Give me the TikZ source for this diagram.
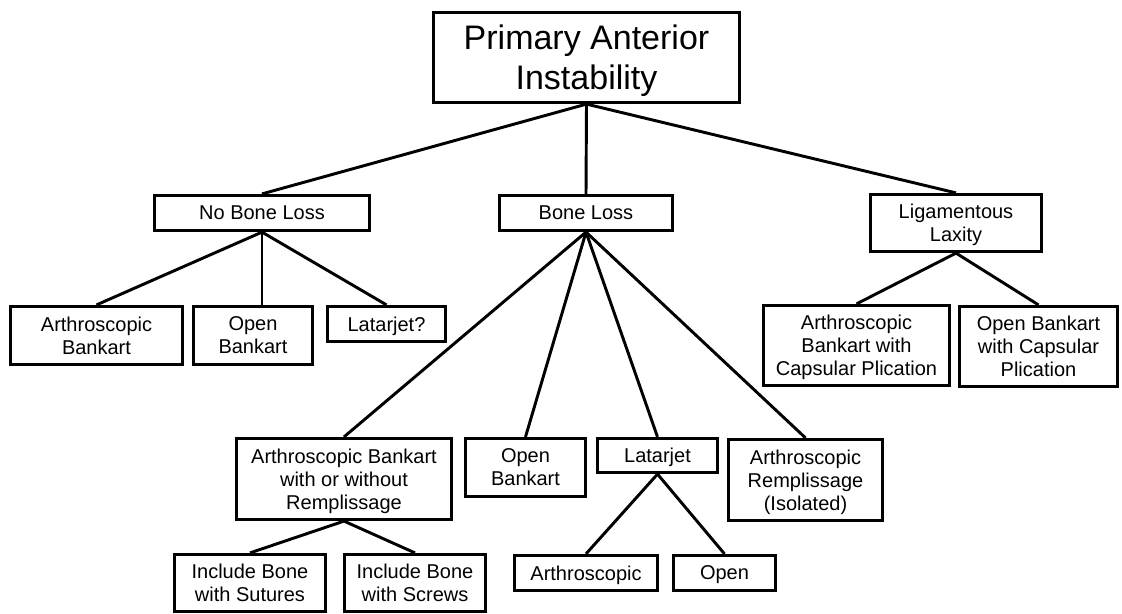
\documentclass[tikz,border=0pt]{standalone}
\usepackage{fontspec}
\setmainfont{Liberation Sans}
\begin{document}
\begin{tikzpicture}[x=0.75pt,y=-0.75pt,
  box/.style={draw,line width=2.4pt,align=center,inner sep=0pt,text depth=0pt,
    font=\fontsize{15}{17.25}\selectfont},
  sz/.style 2 args={minimum width=#1*0.75pt,minimum height=#2*0.75pt},
  link/.style={line width=2.2pt}]
  \useasboundingbox (0,0) rectangle (1122,614);
  % root
  \node[box,sz={306}{90},font=\fontsize{25.5}{30}\selectfont] (root) at (586.5,57.5) {Primary Anterior\\Instability};
  % first level
  \node[box,sz={215}{35}] (nbl) at (262,213) {No Bone Loss};
  \node[box,sz={173}{35}] (bl) at (586,213) {Bone Loss};
  \node[box,sz={171}{57}] (lig) at (956,223) {Ligamentous\\Laxity};
  % no bone loss
  \node[box,sz={172}{58}] (ab) at (96.5,335.5) {Arthroscopic\\Bankart};
  \node[box,sz={119}{58}] (ob) at (253,335.5) {Open\\Bankart};
  \node[box,sz={118}{35}] (latq) at (386.5,324) {Latarjet?};
  % ligamentous laxity
  \node[box,sz={186}{80}] (abcp) at (856.5,345.5) {Arthroscopic\\Bankart with\\Capsular Plication};
  \node[box,sz={158}{80}] (obcp) at (1038.5,346.5) {Open Bankart\\with Capsular\\Plication};
  % bone loss
  \node[box,sz={215}{81}] (abwr) at (344,479) {Arthroscopic Bankart\\with or without\\Remplissage};
  \node[box,sz={120}{58}] (obl) at (525.5,467.5) {Open\\Bankart};
  \node[box,sz={120}{34}] (lat) at (657.5,455.5) {Latarjet};
  \node[box,sz={154}{81}] (ari) at (805.5,480) {Arthroscopic\\Remplissage\\(Isolated)};
  % bottom row
  \node[box,sz={151}{57}] (ibsu) at (250,583) {Include Bone\\with Sutures};
  \node[box,sz={141}{57}] (ibsc) at (415,583) {Include Bone\\with Screws};
  \node[box,sz={143}{35}] (arth) at (586,573) {Arthroscopic};
  \node[box,sz={102}{35}] (open) at (724.5,573) {Open};
  % connectors
  \draw[link] (root.south) -- (nbl.north);
  \draw[link] (root.south) -- (bl.north);
  \draw[link] (root.south) -- (lig.north);
  \draw[link] (nbl.south) -- (ab.north);
  \draw[link] (nbl.south) -- (nbl.south |- ob.north);
  \draw[link] (nbl.south) -- (latq.north);
  \draw[link] (lig.south) -- (abcp.north);
  \draw[link] (lig.south) -- (obcp.north);
  \draw[link] (bl.south) -- (abwr.north);
  \draw[link] (bl.south) -- (obl.north);
  \draw[link] (bl.south) -- (lat.north);
  \draw[link] (bl.south) -- (ari.north);
  \draw[link] (abwr.south) -- (ibsu.north);
  \draw[link] (abwr.south) -- (ibsc.north);
  \draw[link] (lat.south) -- (arth.north);
  \draw[link] (lat.south) -- (open.north);
\end{tikzpicture}
\end{document}
